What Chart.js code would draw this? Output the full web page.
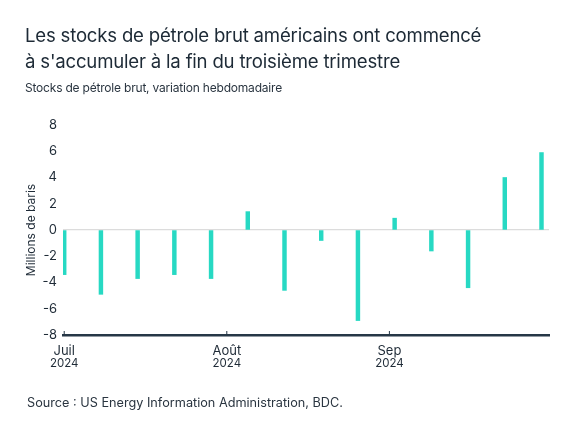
<!DOCTYPE html>
<html lang="fr">
<head>
<meta charset="utf-8">
<title>Stocks de pétrole brut</title>
<script src="https://cdn.jsdelivr.net/npm/chart.js@4.4.1/dist/chart.umd.min.js"></script>
<style>
  html, body { margin: 0; padding: 0; background: #ffffff; }
  body { width: 575px; height: 431px; position: relative; overflow: hidden; font-family: Inter, "Noto Sans", sans-serif; color: #1d2a36; }
  #title { position: absolute; left: 25px; top: 22px; font-size: 18.6px; line-height: 26px; letter-spacing: -0.2px; }
  #subtitle { position: absolute; left: 25px; top: 80px; font-size: 12px; line-height: 16px; letter-spacing: -0.2px; color: #2a3540; }
  #source { position: absolute; left: 27px; top: 395px; font-size: 12.7px; line-height: 16px; color: #2a3540; }
  #wrap { position: absolute; left: 0; top: 0; width: 575px; height: 431px; }
</style>
</head>
<body>
<div id="wrap"><canvas id="chart" width="575" height="431"></canvas></div>
<div id="title">Les stocks de pétrole brut américains ont commencé<br>à s'accumuler à la fin du troisième trimestre</div>
<div id="subtitle">Stocks de pétrole brut, variation hebdomadaire</div>
<div id="source">Source : US Energy Information Administration, BDC.</div>
<script>
// weekly change in US crude oil stocks (millions of barrels)
const weeks = ['2024-07-01', '2024-07-08', '2024-07-15', '2024-07-22', '2024-07-29', '2024-08-05', '2024-08-12',
               '2024-08-19', '2024-08-26', '2024-09-02', '2024-09-09', '2024-09-16', '2024-09-23', '2024-09-30'];
const stockChange = [-3.4, -4.9, -3.7, -3.4, -3.7, 1.4, -4.6, -0.8, -6.9, 0.9, -1.6, -4.4, 4.0, 5.9];

// x axis ticks
const monthTicks = ['2024-07-01', '2024-08-01', '2024-09-01'];
const monthLabels = ['Juil', 'Août', 'Sep'];
const yearLabels = ['2024', '2024', '2024'];

const DAY = 86400000;
const dayOf = (d) => (Date.parse(d) - Date.parse(weeks[0])) / DAY;
const tickDays = monthTicks.map(dayOf);

const barColor = '#27d9c3';
const axisColor = '#263746';
const textColor = '#1f2b37';

// draws the small upward tick marks and the year line under month labels
const yearLabelPlugin = {
    id: 'yearLabels',
    afterDraw(chart) {
        const xs = chart.scales.x;
        const ctx = chart.ctx;
        ctx.save();
        ctx.strokeStyle = axisColor;
        ctx.lineWidth = 1;
        ctx.fillStyle = textColor;
        ctx.font = '11.5px Inter, "Noto Sans", sans-serif';
        ctx.textAlign = 'center';
        ctx.textBaseline = 'middle';
        tickDays.forEach((d, i) => {
            const x = xs.getPixelForValue(d);
            ctx.beginPath();
            ctx.moveTo(x, xs.top - 4);
            ctx.lineTo(x, xs.top);
            ctx.stroke();
            ctx.fillText(yearLabels[i], x, xs.top + 29);
        });
        ctx.restore();
    }
};

new Chart(document.getElementById('chart'), {
    type: 'bar',
    data: {
        datasets: [{
            data: weeks.map((w, i) => ({ x: dayOf(w), y: stockChange[i] })),
            backgroundColor: barColor,
            borderWidth: 0,
            barThickness: 3.8
        }]
    },
    options: {
        responsive: false,
        animation: false,
        events: [],
        layout: { padding: { top: 125, right: 26, bottom: 0, left: 0 } },
        plugins: { legend: { display: false }, tooltip: { enabled: false } },
        scales: {
            x: {
                type: 'linear',
                offset: false,
                min: -0.23,
                max: 92.43,
                afterFit(scale) { scale.height = 96; },
                afterBuildTicks(scale) { scale.ticks = tickDays.map(v => ({ value: v })); },
                grid: { display: false },
                border: { display: true, color: axisColor, width: 2.5 },
                ticks: {
                    autoSkip: false,
                    maxRotation: 0,
                    padding: 0,
                    color: textColor,
                    font: { family: 'Inter, "Noto Sans", sans-serif', size: 13 },
                    callback(value) {
                        const i = tickDays.indexOf(value);
                        return i >= 0 ? monthLabels[i] : '';
                    }
                }
            },
            y: {
                min: -8,
                max: 8,
                afterFit(scale) { scale.width = 63; },
                border: { display: false },
                grid: {
                    drawTicks: false,
                    color: (c) => (c.tick && c.tick.value === 0 ? '#dcdcdc' : 'rgba(0,0,0,0)'),
                    lineWidth: 1.2
                },
                ticks: {
                    stepSize: 2,
                    padding: 6,
                    color: textColor,
                    font: { family: 'Inter, "Noto Sans", sans-serif', size: 13 }
                },
                title: {
                    display: true,
                    text: 'Millions de baris',
                    color: textColor,
                    padding: { top: 24, bottom: 0 },
                    font: { family: 'Inter, "Noto Sans", sans-serif', size: 12 }
                }
            }
        }
    },
    plugins: [yearLabelPlugin]
});
</script>
</body>
</html>
